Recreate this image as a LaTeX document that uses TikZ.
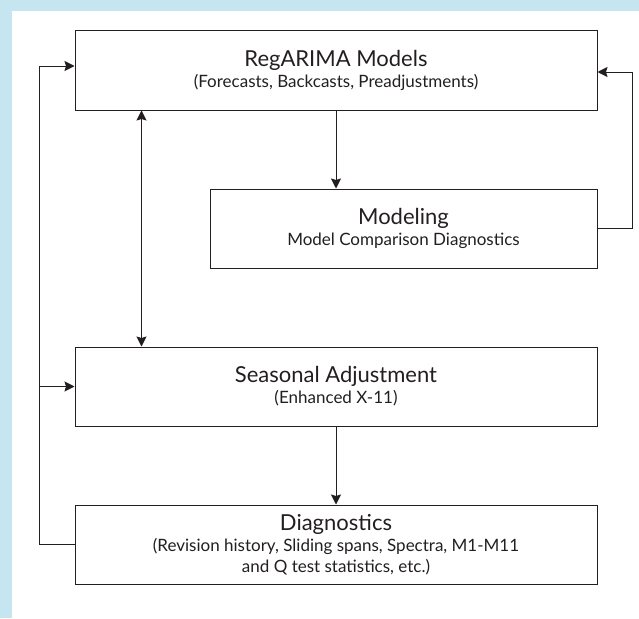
\documentclass[tikz,border=0pt]{standalone}
\usepackage{fontspec}
\setmainfont{Lato}
\usetikzlibrary{arrows.meta,positioning}
\definecolor{ink}{HTML}{231F20}
\definecolor{paleblue}{HTML}{C5E6F0}
\newcommand{\ttlfont}{\fontsize{22}{24}\selectfont}
\newcommand{\subfont}{\fontsize{17}{21}\selectfont}
\tikzset{
  stage/.style={draw=ink,line width=1pt,minimum width=522pt,minimum height=79pt,align=center,inner sep=0pt,font=\subfont,text=ink},
  link/.style={draw=ink,line width=1pt}
}

\begin{document}
\begin{tikzpicture}[x=1pt,y=-1pt,>={Stealth[length=10pt,width=10pt,inset=1.5pt]},node distance=78pt]
% panel
\fill[paleblue] (0,0) rectangle (639,618);
\fill[white] (12,11) rectangle (639,618);
\useasboundingbox (0,0) rectangle (639,618);

\node[stage] (reg) at (336,70.5) {{\ttlfont RegARIMA Models}\\(Forecasts, Backcasts, Preadjustments)};
\node[stage,minimum width=387pt,below left=78pt and 0pt of reg.south east] (mdl) {{\ttlfont Modeling}\\Model Comparison Diagnostics};
\node[stage,below=of reg.south |- mdl.south] (seas) {{\ttlfont Seasonal Adjustment}\\(Enhanced X-11)};
\node[stage,below=of seas] (diag) {{\ttlfont Diagnostics}\\(Revision history, Sliding spans, Spectra, M1-M11\\and Q test statistics, etc.)};

\coordinate[left=35pt of diag.west] (lp);
\coordinate[right=35pt of mdl.east] (rp);

\draw[link,->] (reg.south) -- (reg.south |- mdl.north);
\draw[link,->] (seas.south) -- (diag.north);
\draw[link,<->] ([xshift=67pt]reg.south west) -- ([xshift=67pt]seas.north west);
\draw[link,->] (mdl.east) -- (rp) |- ([yshift=-1.5pt]reg.east);
\draw[link,->] (diag.west) -- (lp) |- ([yshift=4.5pt]reg.west);
\draw[link,->] (lp |- seas.west) -- (seas.west);
\end{tikzpicture}
\end{document}
